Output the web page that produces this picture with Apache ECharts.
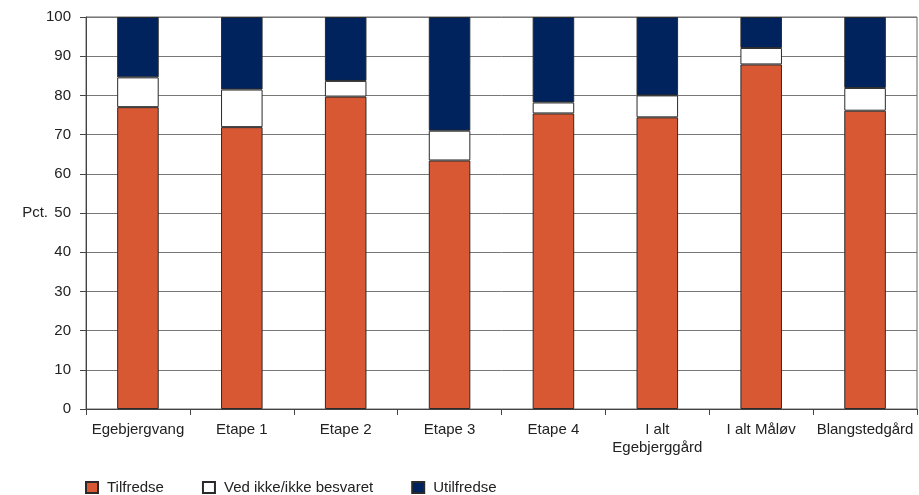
<!DOCTYPE html>
<html>
<head>
<meta charset="utf-8">
<script src="https://cdn.jsdelivr.net/npm/echarts@6/dist/echarts.min.js"></script>
<style>html,body{margin:0;padding:0;background:#fff}#c{width:919px;height:495px}</style>
</head>
<body>
<div id="c"></div>
<script>
const categories = ['Egebjergvang', 'Etape 1', 'Etape 2', 'Etape 3', 'Etape 4', 'I alt\nEgebjerggård', 'I alt Måløv', 'Blangstedgård'];
const tilfredse = [77.0, 71.9, 79.7, 63.4, 75.4, 74.4, 87.9, 76.1];
const vedIkke = [7.6, 9.6, 4.0, 7.6, 2.8, 5.6, 4.2, 5.8];
const utilfredse = [15.4, 18.5, 16.3, 29.0, 21.8, 20.0, 7.9, 18.1];
const yTicks = [0, 10, 20, 30, 40, 50, 60, 70, 80, 90, 100];

const FONT = 'Liberation Sans, Arial, sans-serif';
const chart = echarts.init(document.getElementById('c'));
const border = { borderColor: '#2a2a2a', borderWidth: 1 };
chart.setOption({
  animation: false,
  backgroundColor: '#fff',
  textStyle: { fontFamily: FONT },
  grid: { left: 86, right: 2, top: 17, bottom: 86, show: true, borderColor: '#666', borderWidth: 1 },
  legend: {
    left: 85, top: 480, padding: 0, itemWidth: 12, itemHeight: 11, itemGap: 38, icon: 'rect',
    textStyle: { fontSize: 15, color: '#222', fontFamily: FONT, padding: [0, 0, 0, 4] },
    data: ['Tilfredse', 'Ved ikke/ikke besvaret', 'Utilfredse']
  },
  xAxis: {
    type: 'category', data: categories,
    axisLine: { lineStyle: { color: '#444', width: 1 } },
    axisTick: { show: true, length: 6, lineStyle: { color: '#444' } },
    axisLabel: { fontSize: 15, color: '#222', margin: 12, lineHeight: 18, interval: 0 }
  },
  yAxis: {
    type: 'value', min: yTicks[0], max: yTicks[yTicks.length - 1], interval: 10,
    name: 'Pct.', nameLocation: 'middle', nameRotate: 0, nameGap: 38, nameMoveOverlap: false,
    nameTextStyle: { fontSize: 15, color: '#222', align: 'right' },
    axisLine: { show: true, lineStyle: { color: '#444' } },
    axisTick: { show: true, length: 6, lineStyle: { color: '#444' } },
    axisLabel: { fontSize: 15, color: '#222', margin: 15 },
    splitLine: { show: true, lineStyle: { color: '#777', width: 1 } }
  },
  series: [
    { name: 'Tilfredse', type: 'bar', stack: 'a', barWidth: '40%', data: tilfredse,
      itemStyle: Object.assign({ color: '#D95834' }, border) },
    { name: 'Ved ikke/ikke besvaret', type: 'bar', stack: 'a', barWidth: '40%', data: vedIkke,
      itemStyle: Object.assign({ color: '#FFFFFF' }, border) },
    { name: 'Utilfredse', type: 'bar', stack: 'a', barWidth: '40%', data: utilfredse,
      itemStyle: Object.assign({ color: '#00235E' }, border) }
  ]
});
</script>
</body>
</html>
